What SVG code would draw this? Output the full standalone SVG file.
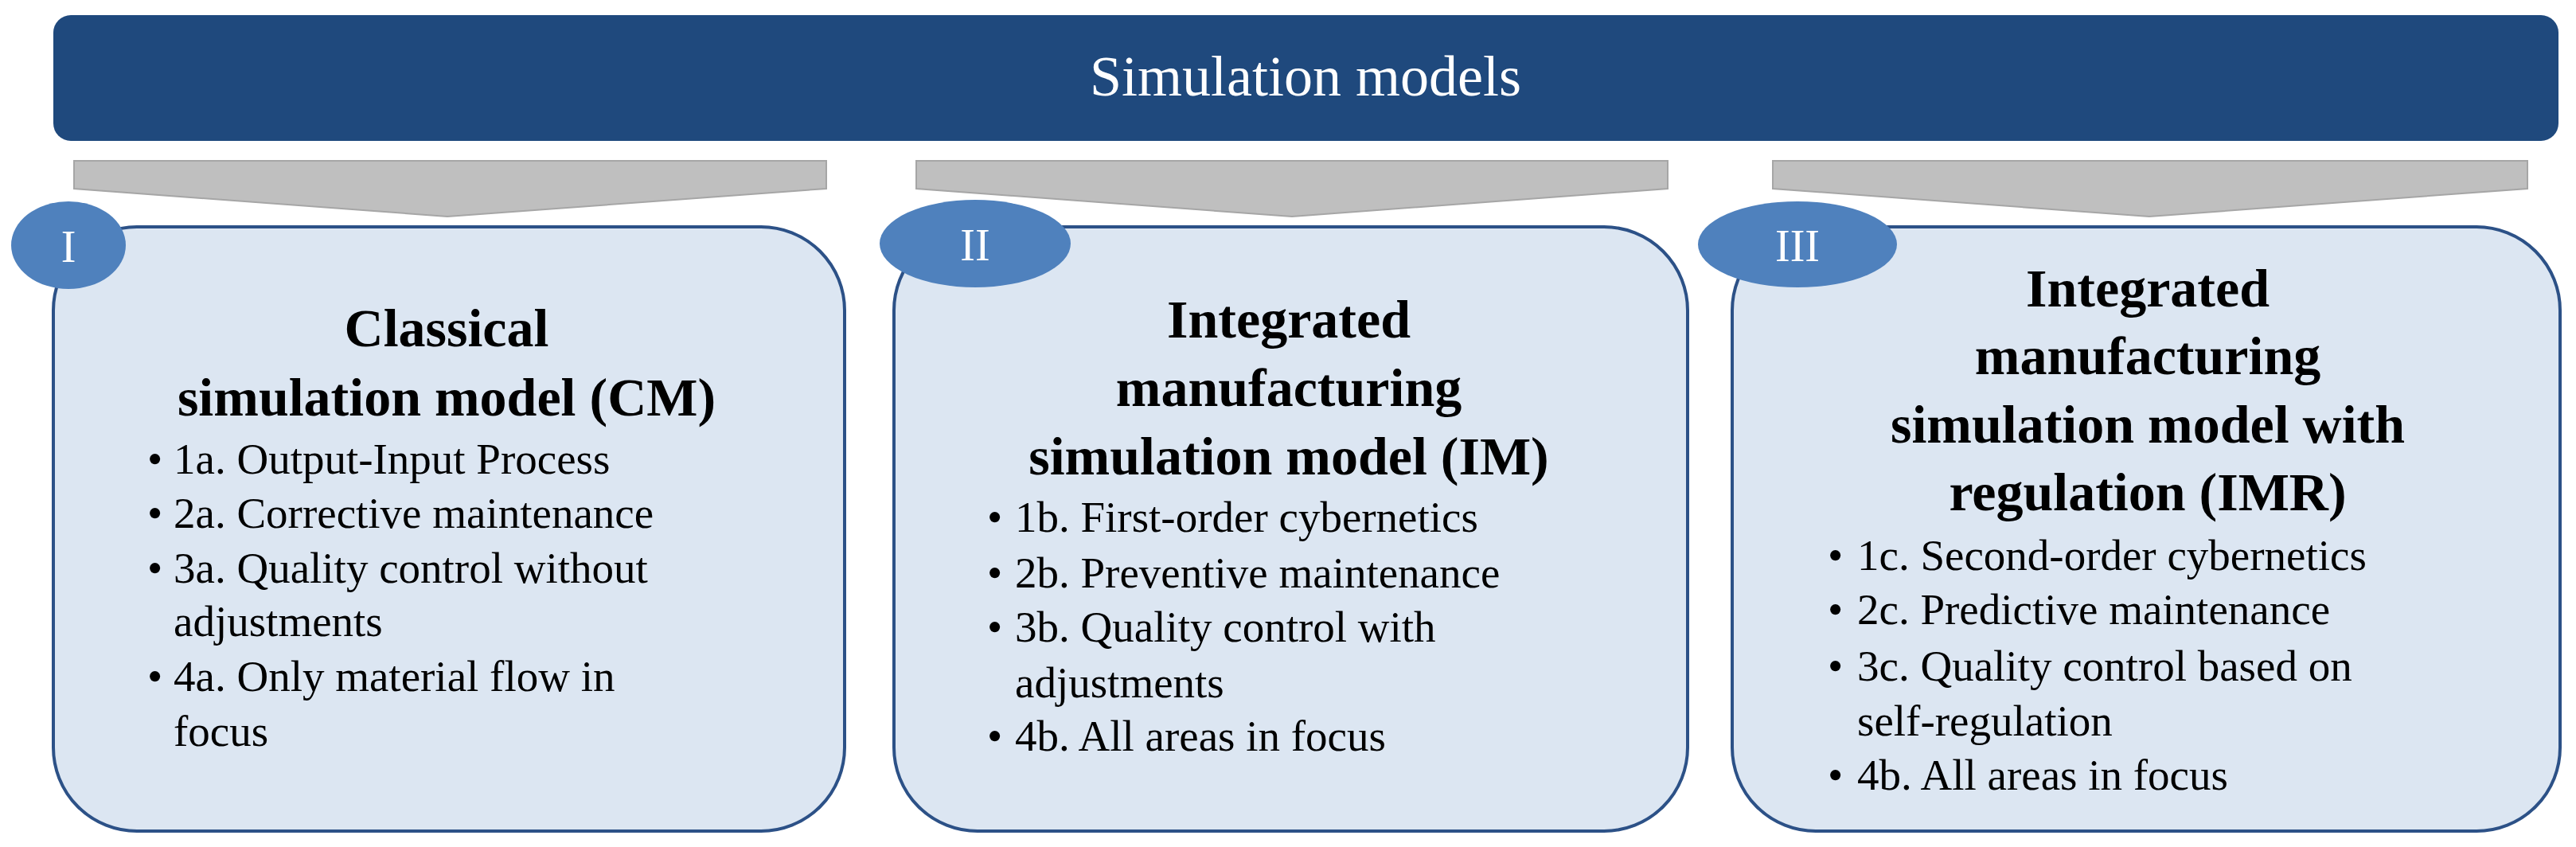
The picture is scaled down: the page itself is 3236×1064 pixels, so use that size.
<svg xmlns="http://www.w3.org/2000/svg" width="3236" height="1064" viewBox="0 0 3236 1064">
<style>
.box{fill:#dce6f2;stroke:#2c5187;stroke-width:4}
.chev{fill:#bfbfbf;stroke:#a6a6a6;stroke-width:2}
.ell{fill:#4f81bd}
.num{font-family:"Liberation Serif",serif;font-size:56px;fill:#fff;text-anchor:middle}
.ttl{font-family:"Liberation Serif",serif;font-weight:bold;font-size:68px;fill:#000;text-anchor:middle}
.bul{font-family:"Liberation Serif",serif;font-size:55px;fill:#000}
</style>
<g id="header">
<rect x="67" y="19" width="3147" height="158" rx="22" fill="#1f497d"/>
<text x="1640" y="120" font-family="Liberation Serif,serif" font-size="72" fill="#fff" text-anchor="middle">Simulation models</text>
</g>
<g id="connectors">
<path class="chev" d="M93 202 H1038 V237 L562 272 L93 237 Z"/>
<path class="chev" d="M1151 202 H2095 V237 L1623 272 L1151 237 Z"/>
<path class="chev" d="M2227 202 H3175 V237 L2700 272 L2227 237 Z"/>
</g>
<g id="node1">
<rect class="box" x="67" y="285" width="994" height="759" rx="105"/>
<ellipse class="ell" cx="86" cy="308" rx="72" ry="55"/>
<text class="num" x="86" y="329">I</text>
<text class="ttl" x="561" y="435">Classical</text>
<text class="ttl" x="561" y="522">simulation model (CM)</text>
<g class="bul">
<text x="185" y="595">•</text><text x="218" y="595">1a. Output-Input Process</text>
<text x="185" y="663">•</text><text x="218" y="663">2a. Corrective maintenance</text>
<text x="185" y="732">•</text><text x="218" y="732">3a. Quality control without</text>
<text x="218" y="799">adjustments</text>
<text x="185" y="868">•</text><text x="218" y="868">4a. Only material flow in</text>
<text x="218" y="937">focus</text>
</g>
</g>
<g id="node2">
<rect class="box" x="1123" y="285" width="997" height="759" rx="105"/>
<ellipse class="ell" cx="1225" cy="306" rx="120" ry="55"/>
<text class="num" x="1225" y="327">II</text>
<text class="ttl" x="1619" y="424">Integrated</text>
<text class="ttl" x="1619" y="510">manufacturing</text>
<text class="ttl" x="1619" y="596">simulation model (IM)</text>
<g class="bul">
<text x="1240" y="668">•</text><text x="1275" y="668">1b. First-order cybernetics</text>
<text x="1240" y="738">•</text><text x="1275" y="738">2b. Preventive maintenance</text>
<text x="1240" y="806">•</text><text x="1275" y="806">3b. Quality control with</text>
<text x="1275" y="876">adjustments</text>
<text x="1240" y="943">•</text><text x="1275" y="943">4b. All areas in focus</text>
</g>
</g>
<g id="node3">
<rect class="box" x="2176" y="285" width="1040" height="759" rx="105"/>
<ellipse class="ell" cx="2258" cy="307" rx="125" ry="54"/>
<text class="num" x="2258" y="328">III</text>
<text class="ttl" x="2698" y="385">Integrated</text>
<text class="ttl" x="2698" y="470">manufacturing</text>
<text class="ttl" x="2698" y="556">simulation model with</text>
<text class="ttl" x="2698" y="641">regulation (IMR)</text>
<g class="bul">
<text x="2296" y="716">•</text><text x="2333" y="716">1c. Second-order cybernetics</text>
<text x="2296" y="784">•</text><text x="2333" y="784">2c. Predictive maintenance</text>
<text x="2296" y="855">•</text><text x="2333" y="855">3c. Quality control based on</text>
<text x="2333" y="924">self-regulation</text>
<text x="2296" y="992">•</text><text x="2333" y="992">4b. All areas in focus</text>
</g>
</g>
</svg>
